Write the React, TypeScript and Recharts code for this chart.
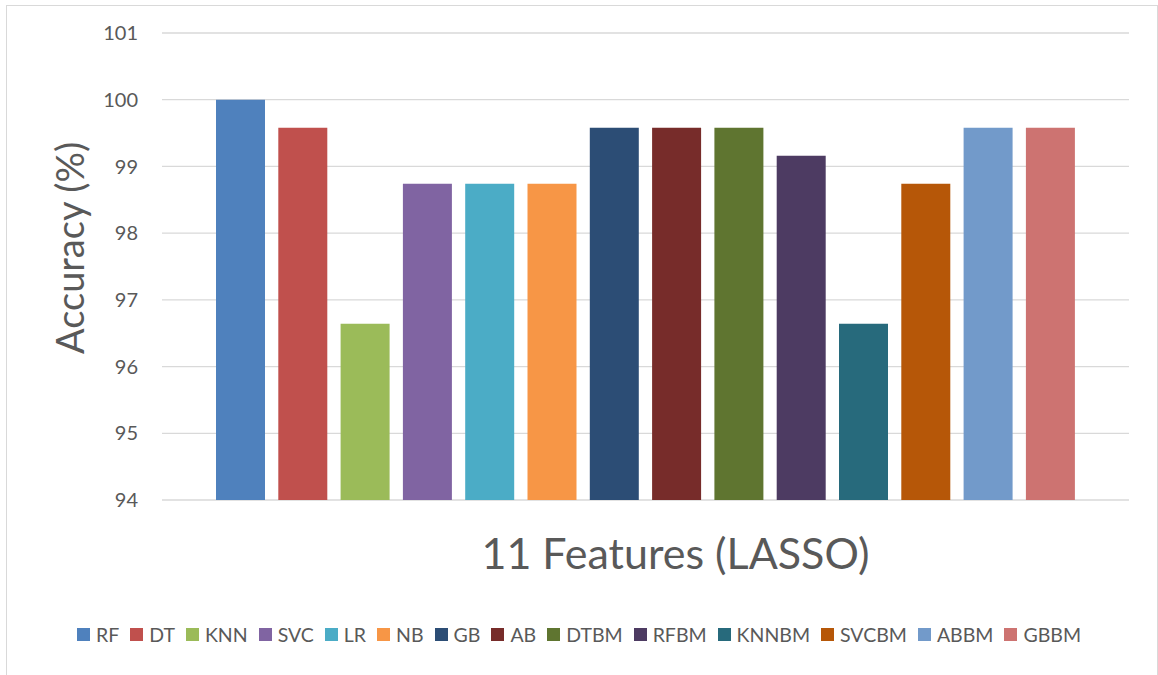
import React from "react";
import {
  BarChart,
  Bar,
  XAxis,
  YAxis,
  CartesianGrid,
  Legend,
} from "recharts";

const category = "11 Features (LASSO)";

const models = [
  "RF", "DT", "KNN", "SVC", "LR", "NB", "GB",
  "AB", "DTBM", "RFBM", "KNNBM", "SVCBM", "ABBM", "GBBM",
];

const accuracy = [
  100, 99.58, 96.64, 98.74, 98.74, 98.74, 99.58,
  99.58, 99.58, 99.16, 96.64, 98.74, 99.58, 99.58,
];

const colors = [
  "#4f81bd", "#c0504d", "#9bbb59", "#8064a2", "#4bacc6", "#f79646", "#2c4d75",
  "#772c2a", "#5f7530", "#4d3b62", "#276a7c", "#b65708", "#729aca", "#cd7371",
];

const yTicks = [94, 95, 96, 97, 98, 99, 100, 101];

const FONT = "Lato, 'Open Sans', sans-serif";
const TEXT = "#595959";

// one row, one key per model
const row: Record<string, string | number> = { name: category };
models.forEach((m, i) => {
  row[m] = accuracy[i];
});
const data = [row];

function XLabel(props: any) {
  const { x, y, width } = props.viewBox;
  // the title sits a little right of the plot centre in the original
  return (
    <text
      x={x + width / 2 + 30}
      y={y + 69}
      textAnchor="middle"
      fill={TEXT}
      fontSize={43}
      fontFamily={FONT}
    >
      {category}
    </text>
  );
}

function YLabel() {
  return (
    <text
      x={69}
      y={248}
      transform="rotate(-90 69 248)"
      textAnchor="middle"
      dominantBaseline="central"
      fill={TEXT}
      fontSize={38}
      fontFamily={FONT}
    >
      Accuracy (%)
    </text>
  );
}

// legend in series order, Excel-like square markers
function LegendContent() {
  return (
    <div
      style={{
        display: "flex",
        justifyContent: "center",
        alignItems: "center",
        fontFamily: FONT,
        fontSize: 19.5,
        color: TEXT,
      }}
    >
      {models.map((m, i) => (
        <div
          key={m}
          style={{ display: "flex", alignItems: "center", marginRight: i < models.length - 1 ? 11 : 0 }}
        >
          <span
            style={{
              display: "inline-block",
              width: 13,
              height: 13,
              background: colors[i],
              marginRight: 6,
            }}
          />
          <span>{m}</span>
        </div>
      ))}
    </div>
  );
}

export default function App() {
  return (
    <div
      style={{
        position: "absolute",
        left: 0,
        top: 0,
        width: 1158,
        height: 675,
        overflow: "hidden",
        background: "#fff",
      }}
    >
      <div
        style={{
          position: "absolute",
          left: 6,
          top: 5,
          width: 1150,
          height: 700,
          border: "1px solid #d9d9d9",
        }}
      />
      <BarChart
        width={1158}
        height={675}
        data={data}
        margin={{ top: 33, right: 29, bottom: 0, left: 0 }}
        barSize={49}
        barGap={13.3}
        style={{ position: "absolute", left: 0, top: 0 }}
      >
        <CartesianGrid
          horizontal
          vertical={false}
          stroke="#d9d9d9"
          strokeWidth={1.3}
        />
        <XAxis
          dataKey="name"
          height={175}
          tick={false}
          tickLine={false}
          axisLine={false}
          label={<XLabel />}
        />
        <YAxis
          width={162}
          domain={[94, 101]}
          ticks={yTicks}
          interval={0}
          axisLine={false}
          tickLine={false}
          tickSize={0}
          tickMargin={24}
          tick={{ fill: TEXT, fontSize: 20, fontFamily: FONT }}
          label={<YLabel />}
        />
        <Legend
          layout="horizontal"
          verticalAlign="middle"
          align="center"
          content={<LegendContent />}
          wrapperStyle={{ top: 623, left: 0, width: 1158 }}
        />
        {models.map((m, i) => (
          <Bar
            key={m}
            dataKey={m}
            fill={colors[i]}
            isAnimationActive={false}
          />
        ))}
      </BarChart>
    </div>
  );
}
